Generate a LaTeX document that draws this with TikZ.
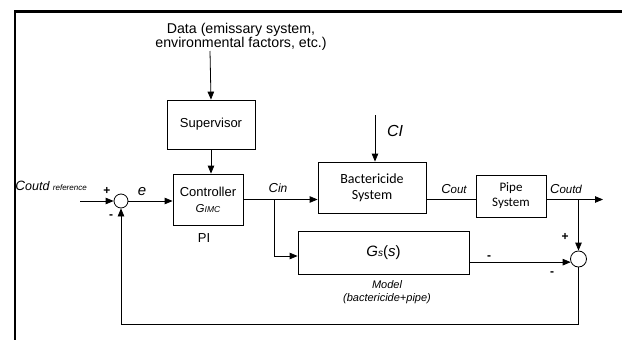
\documentclass[tikz,border=0pt]{standalone}
\usepackage{fontspec}
\setmainfont{Liberation Sans}
\newfontfamily\calibri{Carlito}
\usetikzlibrary{arrows.meta}
\begin{document}
\begin{tikzpicture}[x=1pt,y=-1pt, line width=0.8pt,
  blk/.style={draw, inner sep=0pt, align=center},
  arr/.style={-{Triangle[length=8pt,width=6.5pt]}},
  sumc/.style={draw, circle, inner sep=0pt},
  lbl/.style={inner sep=0pt}]
\useasboundingbox (0,0) rectangle (622,340);
\draw[line width=2.5pt] (623,11.5) -- (15,11.5) -- (15,341);

% data source
\node[lbl, align=center, font=\fontsize{14.2}{14.5}\selectfont] (data) at (241,37) {Data (emissary system,\\environmental factors, etc.)};
\coordinate (dtop) at (210,51);

% blocks
\node[blk, minimum width=88pt, minimum height=49pt, font=\fontsize{13}{15}\selectfont] (sup) at (211,124.5) {Supervisor};
\node[blk, minimum width=70pt, minimum height=51pt, font=\fontsize{13}{16}\selectfont] (ctrl) at (208,199.5)
  {Controller\\{\itshape\fontsize{11.5}{13}\selectfont G\fontsize{8.5}{9}\selectfont IMC}};
\node[lbl, font=\fontsize{13}{15}\selectfont] (pi) at (204,238) {PI};
\node[blk, minimum width=108pt, minimum height=51pt, font=\calibri\fontsize{14}{16}\selectfont] (bac) at (372,187.5) {Bactericide\\System};
\node[blk, minimum width=70pt, minimum height=42pt, font=\calibri\fontsize{13}{15}\selectfont] (pipe) at (511,196) {Pipe\\System};
\node[blk, minimum width=171pt, minimum height=43pt, font=\fontsize{15}{16}\selectfont] (gs) at (383.5,252.5)
  {{\itshape G}{\itshape\fontsize{10}{10}\selectfont s}({\itshape s})};
\node[lbl, align=center, font=\itshape\fontsize{11}{12.5}\selectfont] (model) at (387,292) {Model\\(bactericide+pipe)};

% summing junctions
\node[sumc, minimum size=14pt] (s1) at (121,201) {};
\node[sumc, minimum size=16pt] (s2) at (578.5,259) {};

% coordinates
\coordinate (in) at (80,201);
\coordinate (citop) at (375,115);
\coordinate (br1) at (274,199.5);
\coordinate (br2) at (578.5,199.5);
\coordinate (out) at (603,199.5);
\coordinate (fb) at (121,324);

% labels
\node[lbl, anchor=base west] (ref) at (15,190)
  {\itshape\fontsize{13.5}{14}\selectfont C\fontsize{12.5}{13}\selectfont outd \fontsize{8}{9}\selectfont reference};
\node[lbl, font=\fontsize{12}{14}\selectfont\bfseries] (p1) at (107,191) {+};
\node[lbl, font=\fontsize{12}{14}\selectfont\bfseries] (m1) at (111,217) {-};
\node[lbl, font=\itshape\fontsize{15}{16}\selectfont] (e) at (142,192) {e};
\node[lbl, anchor=base] (cin) at (278,192)
  {\itshape\fontsize{13}{14}\selectfont C\fontsize{12}{13}\selectfont in};
\node[lbl, font=\itshape\fontsize{16}{18}\selectfont] (ci) at (395,131) {CI};
\node[lbl, anchor=base] (cout) at (454,193)
  {\itshape\fontsize{13}{14}\selectfont C\fontsize{11.5}{13}\selectfont out};
\node[lbl, anchor=base] (coutd) at (566,193)
  {\itshape\fontsize{13}{14}\selectfont C\fontsize{11.5}{13}\selectfont outd};
\node[lbl, font=\fontsize{12}{14}\selectfont\bfseries] (p2) at (565,237) {+};
\node[lbl, font=\fontsize{12}{14}\selectfont\bfseries] (m2) at (552,274) {-};
\node[lbl, font=\fontsize{12}{14}\selectfont\bfseries] (m3) at (489,258) {-};

% connectors
\draw[arr] (dtop) -- (sup.north);
\draw[arr] (sup.south) -- (ctrl.north -| sup.south);
\draw[arr] (in) -- (s1.west);
\draw[arr] (s1.east) -- (ctrl.west |- s1);
\draw[arr] (ctrl.east) -- (bac.west |- ctrl.east);
\draw[arr] (br1) |- ([yshift=-3.5pt]gs.west);
\draw[arr] (citop) -- (citop |- bac.north);
\draw (bac.east |- br1) -- (pipe.west |- br1);
\draw[arr] (pipe.east |- br1) -- (out);
\draw[arr] (br2) -- (s2.north);
\draw[arr] (gs.east |- s2.202) -- (s2.202);
\draw[arr] (s2.south) |- (fb) -- (s1.south);
\end{tikzpicture}
\end{document}
